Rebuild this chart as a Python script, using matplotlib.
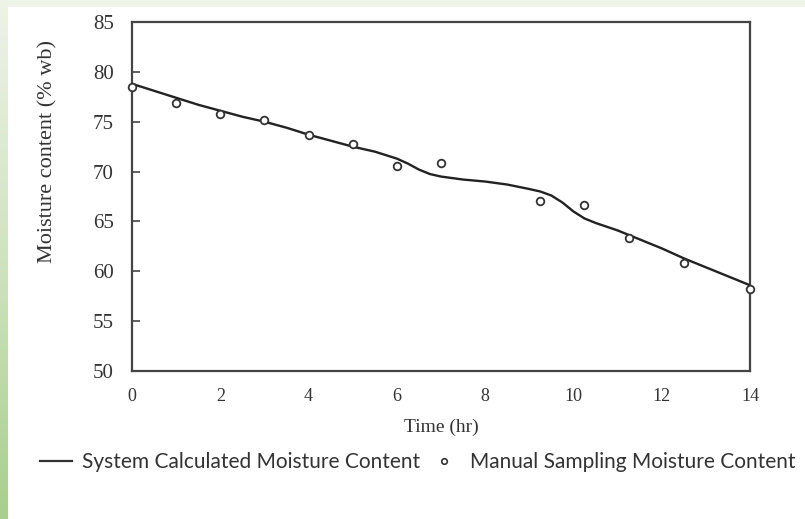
import matplotlib
matplotlib.use("Agg")
import matplotlib.pyplot as plt
import numpy as np
from matplotlib.lines import Line2D
from matplotlib.colors import LinearSegmentedColormap

# Data
calc_time = [0, 0.5, 1, 1.5, 2, 2.5, 3, 3.5, 4, 4.5, 5, 5.5, 6, 6.25, 6.5, 6.75,
             7, 7.5, 8, 8.5, 9, 9.25, 9.5, 9.75, 10, 10.25, 10.5, 11, 11.5, 12,
             12.5, 13, 13.5, 14]
calc_mc = [78.8, 78.1, 77.4, 76.7, 76.1, 75.5, 75.0, 74.4, 73.7, 73.1, 72.5, 72.0,
           71.3, 70.8, 70.2, 69.75, 69.5, 69.2, 69.0, 68.7, 68.25, 68.0, 67.6, 66.9,
           66.0, 65.3, 64.85, 64.1, 63.2, 62.3, 61.3, 60.4, 59.5, 58.6]
manual_time = [0, 1, 2, 3, 4, 5, 6, 7, 9.25, 10.25, 11.25, 12.5, 14]
manual_mc = [78.5, 76.85, 75.75, 75.2, 73.65, 72.75, 70.55, 70.9, 67.0, 66.6, 63.3, 60.8, 58.2]
x_ticks = [0, 2, 4, 6, 8, 10, 12, 14]
y_ticks = [50, 55, 60, 65, 70, 75, 80, 85]

fig = plt.figure(figsize=(8.05, 5.19), dpi=100)
fig.patch.set_facecolor("white")

# decorative background: top band and left green gradient bar
bg = fig.add_axes([0, 0, 1, 1], zorder=-10)
bg.axis("off")
bg.add_patch(plt.Rectangle((0, 0), 805, 7, color="#eef3e8", lw=0))
grad = np.linspace(0, 1, 256).reshape(-1, 1)
cm = LinearSegmentedColormap.from_list("g", ["#eef3e8", "#cfe3c0", "#a8cf8c"])
bg.imshow(grad, cmap=cm, extent=[0, 7, 519, 0], aspect="auto")
bg.set_xlim(0, 805); bg.set_ylim(519, 0)

ax = fig.add_axes([132/805, (519-371)/519, (750-132)/805, (371-22)/519])
ax.plot(calc_time, calc_mc, color="#222222", lw=1.7, zorder=3, solid_joinstyle="round")
ax.plot(manual_time, manual_mc, ls="none", marker="o", ms=5.5, mfc="white",
        mec="#333333", mew=1.3, zorder=4, clip_on=False)
ax.set_xlim(0, 14)
ax.set_ylim(50, 85)
ax.set_xticks(x_ticks)
ax.set_yticks(y_ticks)
serif = "Liberation Serif"
ax.set_xticklabels([str(v) for v in x_ticks], fontfamily=serif, fontsize=13, color="#333333")
ax.set_yticklabels([str(v) for v in y_ticks], fontfamily=serif, fontsize=15, color="#333333")
ax.tick_params(axis="y", direction="in", length=6, width=1.2, pad=13, color="#444444")
ax.tick_params(axis="x", direction="in", length=0, pad=12)
for s in ax.spines.values():
    s.set_linewidth(1.6)
    s.set_color("#444444")
ax.set_xlabel("Time (hr)", fontfamily=serif, fontsize=14, color="#333333", labelpad=10)
ax.set_ylabel("Moisture content (% wb)", fontfamily=serif, fontsize=16, color="#333333")
ax.yaxis.set_label_coords(-0.121, 0.63)

handles = [Line2D([], [], color="#333333", lw=1.6),
           Line2D([], [], ls="none", marker="o", ms=4, mfc="white", mec="#333333", mew=1.2)]
leg = fig.legend(handles, ["System Calculated Moisture Content", "Manual Sampling Moisture Content"],
                 loc="center", bbox_to_anchor=(418/805, 1-462/519), ncol=2, frameon=False,
                 prop={"family": "Lato", "size": 15}, handlelength=1.5, handletextpad=0.5,
                 columnspacing=0.4)
for t in leg.get_texts():
    t.set_color("#333333")

fig.savefig("out.png", dpi=100)
